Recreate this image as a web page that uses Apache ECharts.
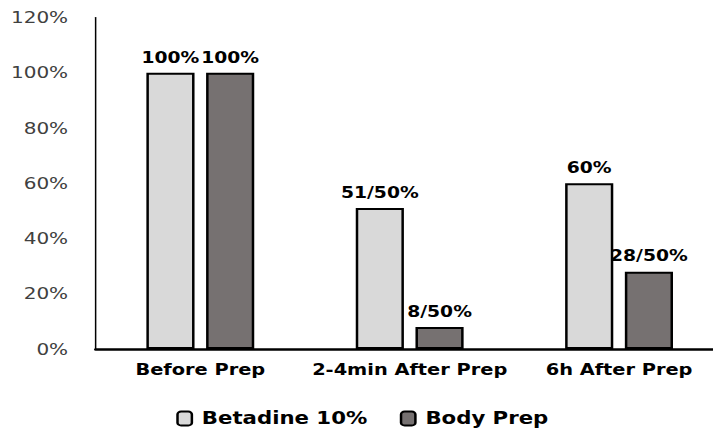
<!DOCTYPE html>
<html>
<head>
<meta charset="utf-8">
<script src="https://cdn.jsdelivr.net/npm/echarts@6/dist/echarts.min.js"></script>
<style>
  html, body { margin: 0; padding: 0; background: #ffffff; overflow: hidden; }
  #wrap { width: 713px; height: 432px; overflow: hidden; }
  /* The chart is laid out narrower and widened horizontally, giving the wide lettering;
     its right end runs a little past the page edge */
  #chart { width: 580px; height: 432px; transform: scaleX(1.25); transform-origin: 0 0; }
</style>
</head>
<body>
<div id="wrap"><div id="chart"></div></div>
<script>
// Categories along the x axis
const categories = ['Before Prep', '2-4min After Prep', '6h After Prep'];

// Series values (percent)
const betadine = [100, 51, 60];
const bodyPrep = [100, 8, 28];

// Text shown above each bar
const betadineLabels = ['100%', '51/50%', '60%'];
const bodyPrepLabels = ['100%', '8/50%', '28/50%'];

// Value axis range
const yMin = 0;
const yMax = 120;
const yStep = 20;

const FONT = '"DejaVu Sans", Verdana, sans-serif';

const chart = echarts.init(document.getElementById('chart'), null, { renderer: 'svg' });

function barLabel(texts) {
  return {
    show: true,
    position: 'top',
    distance: 8,
    fontFamily: FONT,
    fontWeight: 'bold',
    fontSize: 15,
    color: '#000000',
    formatter: p => texts[p.dataIndex]
  };
}

chart.setOption({
  animation: false,
  backgroundColor: '#ffffff',
  grid: { left: 76.5, right: 1, top: 17.5, bottom: 83, containLabel: false },
  legend: {
    left: 141,
    top: 410,
    padding: 0,
    itemWidth: 11.5,
    itemHeight: 14,
    itemGap: 26,
    textStyle: { fontFamily: FONT, fontWeight: 'bold', fontSize: 17, color: '#000000', padding: [0, 0, 0, 3] },
    data: ['Betadine 10%', 'Body Prep']
  },
  xAxis: {
    type: 'category',
    data: categories,
    axisLine: { show: true, lineStyle: { color: '#000000', width: 2.5 } },
    axisTick: { show: false },
    axisLabel: {
      interval: 0,
      margin: 13,
      fontFamily: FONT,
      fontWeight: 'bold',
      fontSize: 15.5,
      color: '#000000'
    }
  },
  yAxis: {
    type: 'value',
    min: yMin,
    max: yMax,
    interval: yStep,
    axisLine: { show: true, lineStyle: { color: '#000000', width: 1.2 } },
    axisTick: { show: false },
    splitLine: { show: false },
    axisLabel: {
      margin: 22,
      fontFamily: FONT,
      fontSize: 16,
      color: '#404040',
      formatter: '{value}%'
    }
  },
  series: [
    {
      name: 'Betadine 10%',
      type: 'bar',
      data: betadine,
      barWidth: '23%',
      barGap: '24%',
      itemStyle: { color: '#d9d9d9', borderColor: '#000000', borderWidth: 2 },
      label: barLabel(betadineLabels)
    },
    {
      name: 'Body Prep',
      type: 'bar',
      data: bodyPrep,
      barWidth: '23%',
      barGap: '24%',
      itemStyle: { color: '#767171', borderColor: '#000000', borderWidth: 2 },
      label: barLabel(bodyPrepLabels)
    }
  ]
});
</script>
</body>
</html>
